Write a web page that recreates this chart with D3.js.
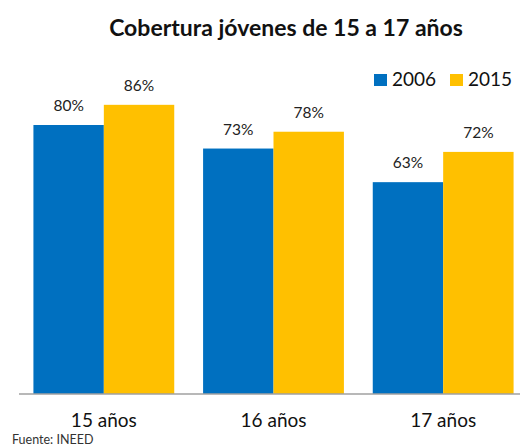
<!DOCTYPE html>
<html><head><meta charset="utf-8">
<script src="https://cdn.jsdelivr.net/npm/d3@7"></script>
<style>body{margin:0;background:#fff}svg{display:block}</style>
</head><body><svg id="c" width="520" height="446"></svg>
<script>
const categories = ["15 años", "16 años", "17 años"];
const seriesNames = ["2006", "2015"];
const values2006 = [80, 73, 63];
const values2015 = [86, 78, 72];
const title = "Cobertura jóvenes de 15 a 17 años";
const source = "Fuente: INEED";
const colors = ["#0070C0", "#FFC000"];
const font = "Lato, 'Open Sans', sans-serif";

const svg = d3.select("#c");
const x0 = d3.scaleBand().domain(categories).range([19, 528]).paddingInner(0.17).paddingOuter(0.085);
const x1 = d3.scaleBand().domain(seriesNames).range([0, x0.bandwidth()]);
const y = d3.scaleLinear().domain([0, 100]).range([394, 57.75]);

const data = categories.map((c, i) => ({cat: c, vals: [values2006[i], values2015[i]]}));

const g = svg.append("g");
data.forEach(d => {
  d.vals.forEach((v, j) => {
    g.append("rect")
      .attr("x", x0(d.cat) + x1(seriesNames[j]))
      .attr("y", y(v))
      .attr("width", x1.bandwidth())
      .attr("height", y(0) - y(v))
      .attr("fill", colors[j]);
    g.append("text")
      .attr("x", x0(d.cat) + x1(seriesNames[j]) + x1.bandwidth() / 2)
      .attr("y", y(v) - 14)
      .attr("text-anchor", "middle")
      .attr("font-family", font).attr("font-size", 15.5).attr("fill", "#222")
      .text(v + "%");
  });
});

const axis = svg.append("g").attr("transform", "translate(0,394)")
  .call(d3.axisBottom(x0).tickSize(0).tickPadding(20));
axis.select(".domain").attr("stroke", "#a0a0a0").attr("stroke-width", 1.5).attr("d", "M19,0H520");
axis.selectAll("text").attr("font-family", font).attr("font-size", 19).attr("fill", "#111");

svg.append("text").attr("x", 286).attr("y", 36).attr("text-anchor", "middle")
  .attr("font-family", font).attr("font-weight", "bold").attr("font-size", 23).attr("fill", "#111")
  .text(title);

const legX = [374, 450];
seriesNames.forEach((s, j) => {
  svg.append("rect").attr("x", legX[j]).attr("y", 74).attr("width", 13).attr("height", 12).attr("fill", colors[j]);
  svg.append("text").attr("x", legX[j] + 18).attr("y", 86)
    .attr("font-family", font).attr("font-size", 19).attr("fill", "#111").text(s);
});

svg.append("text").attr("x", 12).attr("y", 444)
  .attr("font-family", font).attr("font-size", 12.5).attr("fill", "#333").text(source);
</script></body></html>
